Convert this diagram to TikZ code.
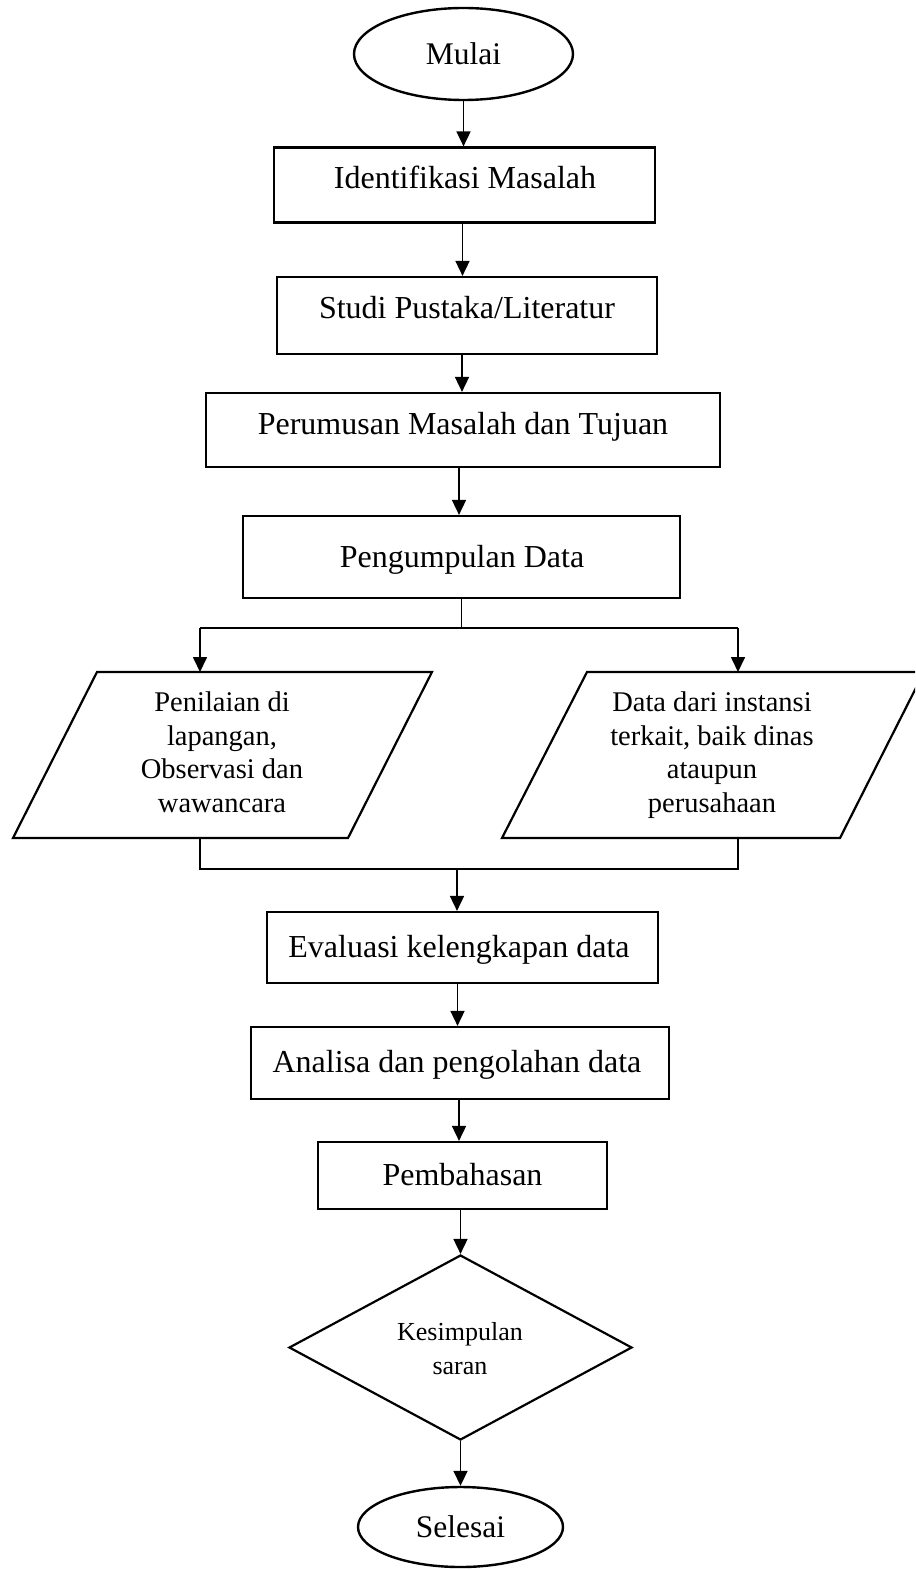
\documentclass[tikz,border=0pt]{standalone}
\usepackage{fontspec}
\setmainfont[Ligatures=NoCommon]{Liberation Serif}
\usetikzlibrary{shapes.geometric,arrows.meta,calc}
\begin{document}
\begin{tikzpicture}[x=1pt,y=-1pt,
  shapeline/.style={draw=black, line width=2.2pt},
  boxnode/.style={shapeline, rectangle, inner sep=0pt},
  ovalnode/.style={draw=black, line width=2.4pt, ellipse, inner sep=0pt, font=\fontsize{31.5}{36}\selectfont},
  lbl/.style={inner sep=0pt, font=\fontsize{32}{36}\selectfont},
  smalllbl/.style={inner sep=0pt, align=center, font=\fontsize{28.5}{33.5}\selectfont},
  dlbl/.style={inner sep=0pt, align=center, font=\fontsize{26}{34}\selectfont},
  arr/.style={line width=1.7pt, -{Triangle[length=15pt,width=14pt]}},
  conn/.style={line width=1.3pt},
]
\path[use as bounding box, clip] (0,0) rectangle (915,1570);

% start
\node[ovalnode, minimum width=219pt, minimum height=92pt] (start) at (463.5,54) {Mulai};

% boxes
\node[boxnode, minimum width=381pt, minimum height=75pt] (b1) at (464.5,185) {};
\node[lbl, anchor=base] (t1) at (465,189) {Identifikasi Masalah};

\node[boxnode, minimum width=380pt, minimum height=77pt] (b2) at (467,315.5) {};
\node[lbl, anchor=base] (t2) at (467,318) {Studi Pustaka/Literatur};

\node[boxnode, minimum width=514pt, minimum height=74pt] (b3) at (463,430) {};
\node[lbl, anchor=base] (t3) at (463,434) {Perumusan Masalah dan Tujuan};

\node[boxnode, minimum width=437pt, minimum height=82pt] (b4) at (461.5,557) {};
\node[lbl, anchor=base] (t4) at (462,567) {Pengumpulan Data};

% parallelograms
\coordinate (L1) at (97,672);
\coordinate (L2) at (432,672);
\coordinate (L3) at (348,838);
\coordinate (L4) at (13,838);
\draw[shapeline, line join=miter] (L1) -- (L2) -- (L3) -- (L4) -- cycle;
\node[smalllbl] (tL) at (222,752) {Penilaian di\\lapangan,\\Observasi dan\\wawancara};

\coordinate (R1) at (587,672);
\coordinate (R2) at (924,672);
\coordinate (R3) at (840,838);
\coordinate (R4) at (502,838);
\draw[shapeline, line join=miter] (R1) -- (R2) -- (R3) -- (R4) -- cycle;
\node[smalllbl] (tR) at (712,755) {Data dari instansi\\terkait, baik dinas\\ataupun\\perusahaan};

\node[boxnode, minimum width=391pt, minimum height=71pt] (b5) at (462.5,947.5) {};
\node[lbl, anchor=base] (t5) at (459,957) {Evaluasi kelengkapan data};

\node[boxnode, minimum width=418pt, minimum height=72pt] (b6) at (460,1063) {};
\node[lbl, anchor=base] (t6) at (457,1072) {Analisa dan pengolahan data};

\node[boxnode, minimum width=289pt, minimum height=67pt] (b7) at (462.5,1175.5) {};
\node[lbl, anchor=base] (t7) at (462.5,1185) {Pembahasan};

\node[shapeline, diamond, inner sep=0pt, minimum width=343pt, minimum height=185pt] (dec) at (460.5,1347.5) {};
\node[dlbl] (tD) at (460,1349) {Kesimpulan\\saran};

\node[ovalnode, minimum width=205pt, minimum height=80pt] (stop) at (460.5,1527) {Selesai};

% connectors
\draw[arr] (start.south) -- (start.south |- b1.north);
\draw[arr] ([xshift=-2pt]b1.south) -- ([xshift=-2pt]b1.south |- b2.north);
\draw[arr] ([xshift=-5pt]b2.south) -- ([xshift=-5pt]b2.south |- b3.north);
\draw[arr] ([xshift=-4pt]b3.south) -- ([xshift=-4pt]b3.south |- b4.north);

% split
\coordinate (split) at (461.5,628);
\coordinate (jl) at (200,628);
\coordinate (jr) at (738,628);
\coordinate (inL) at (200,672);
\coordinate (inR) at (738,672);
\draw[conn] (b4.south) -- (split);
\draw[conn] (jl) -- (jr);
\draw[arr] (jl) -- (inL);
\draw[arr] (jr) -- (inR);

% merge
\coordinate (outL) at (200,838);
\coordinate (outR) at (738,838);
\coordinate (ml) at (200,869);
\coordinate (mr) at (738,869);
\coordinate (mm) at (457,869);
\draw[conn] (outL) -- (ml) -- (mr) -- (outR);
\draw[arr] (mm) -- (mm |- b5.north);

\draw[arr] ([xshift=-5pt]b5.south) -- ([xshift=-5pt]b5.south |- b6.north);
\draw[arr] ([xshift=-1pt]b6.south) -- ([xshift=-1pt]b6.south |- b7.north);
\draw[arr] (dec.north |- b7.south) -- (dec.north);
\draw[arr] (dec.south) -- (dec.south |- stop.north);
\end{tikzpicture}
\end{document}
